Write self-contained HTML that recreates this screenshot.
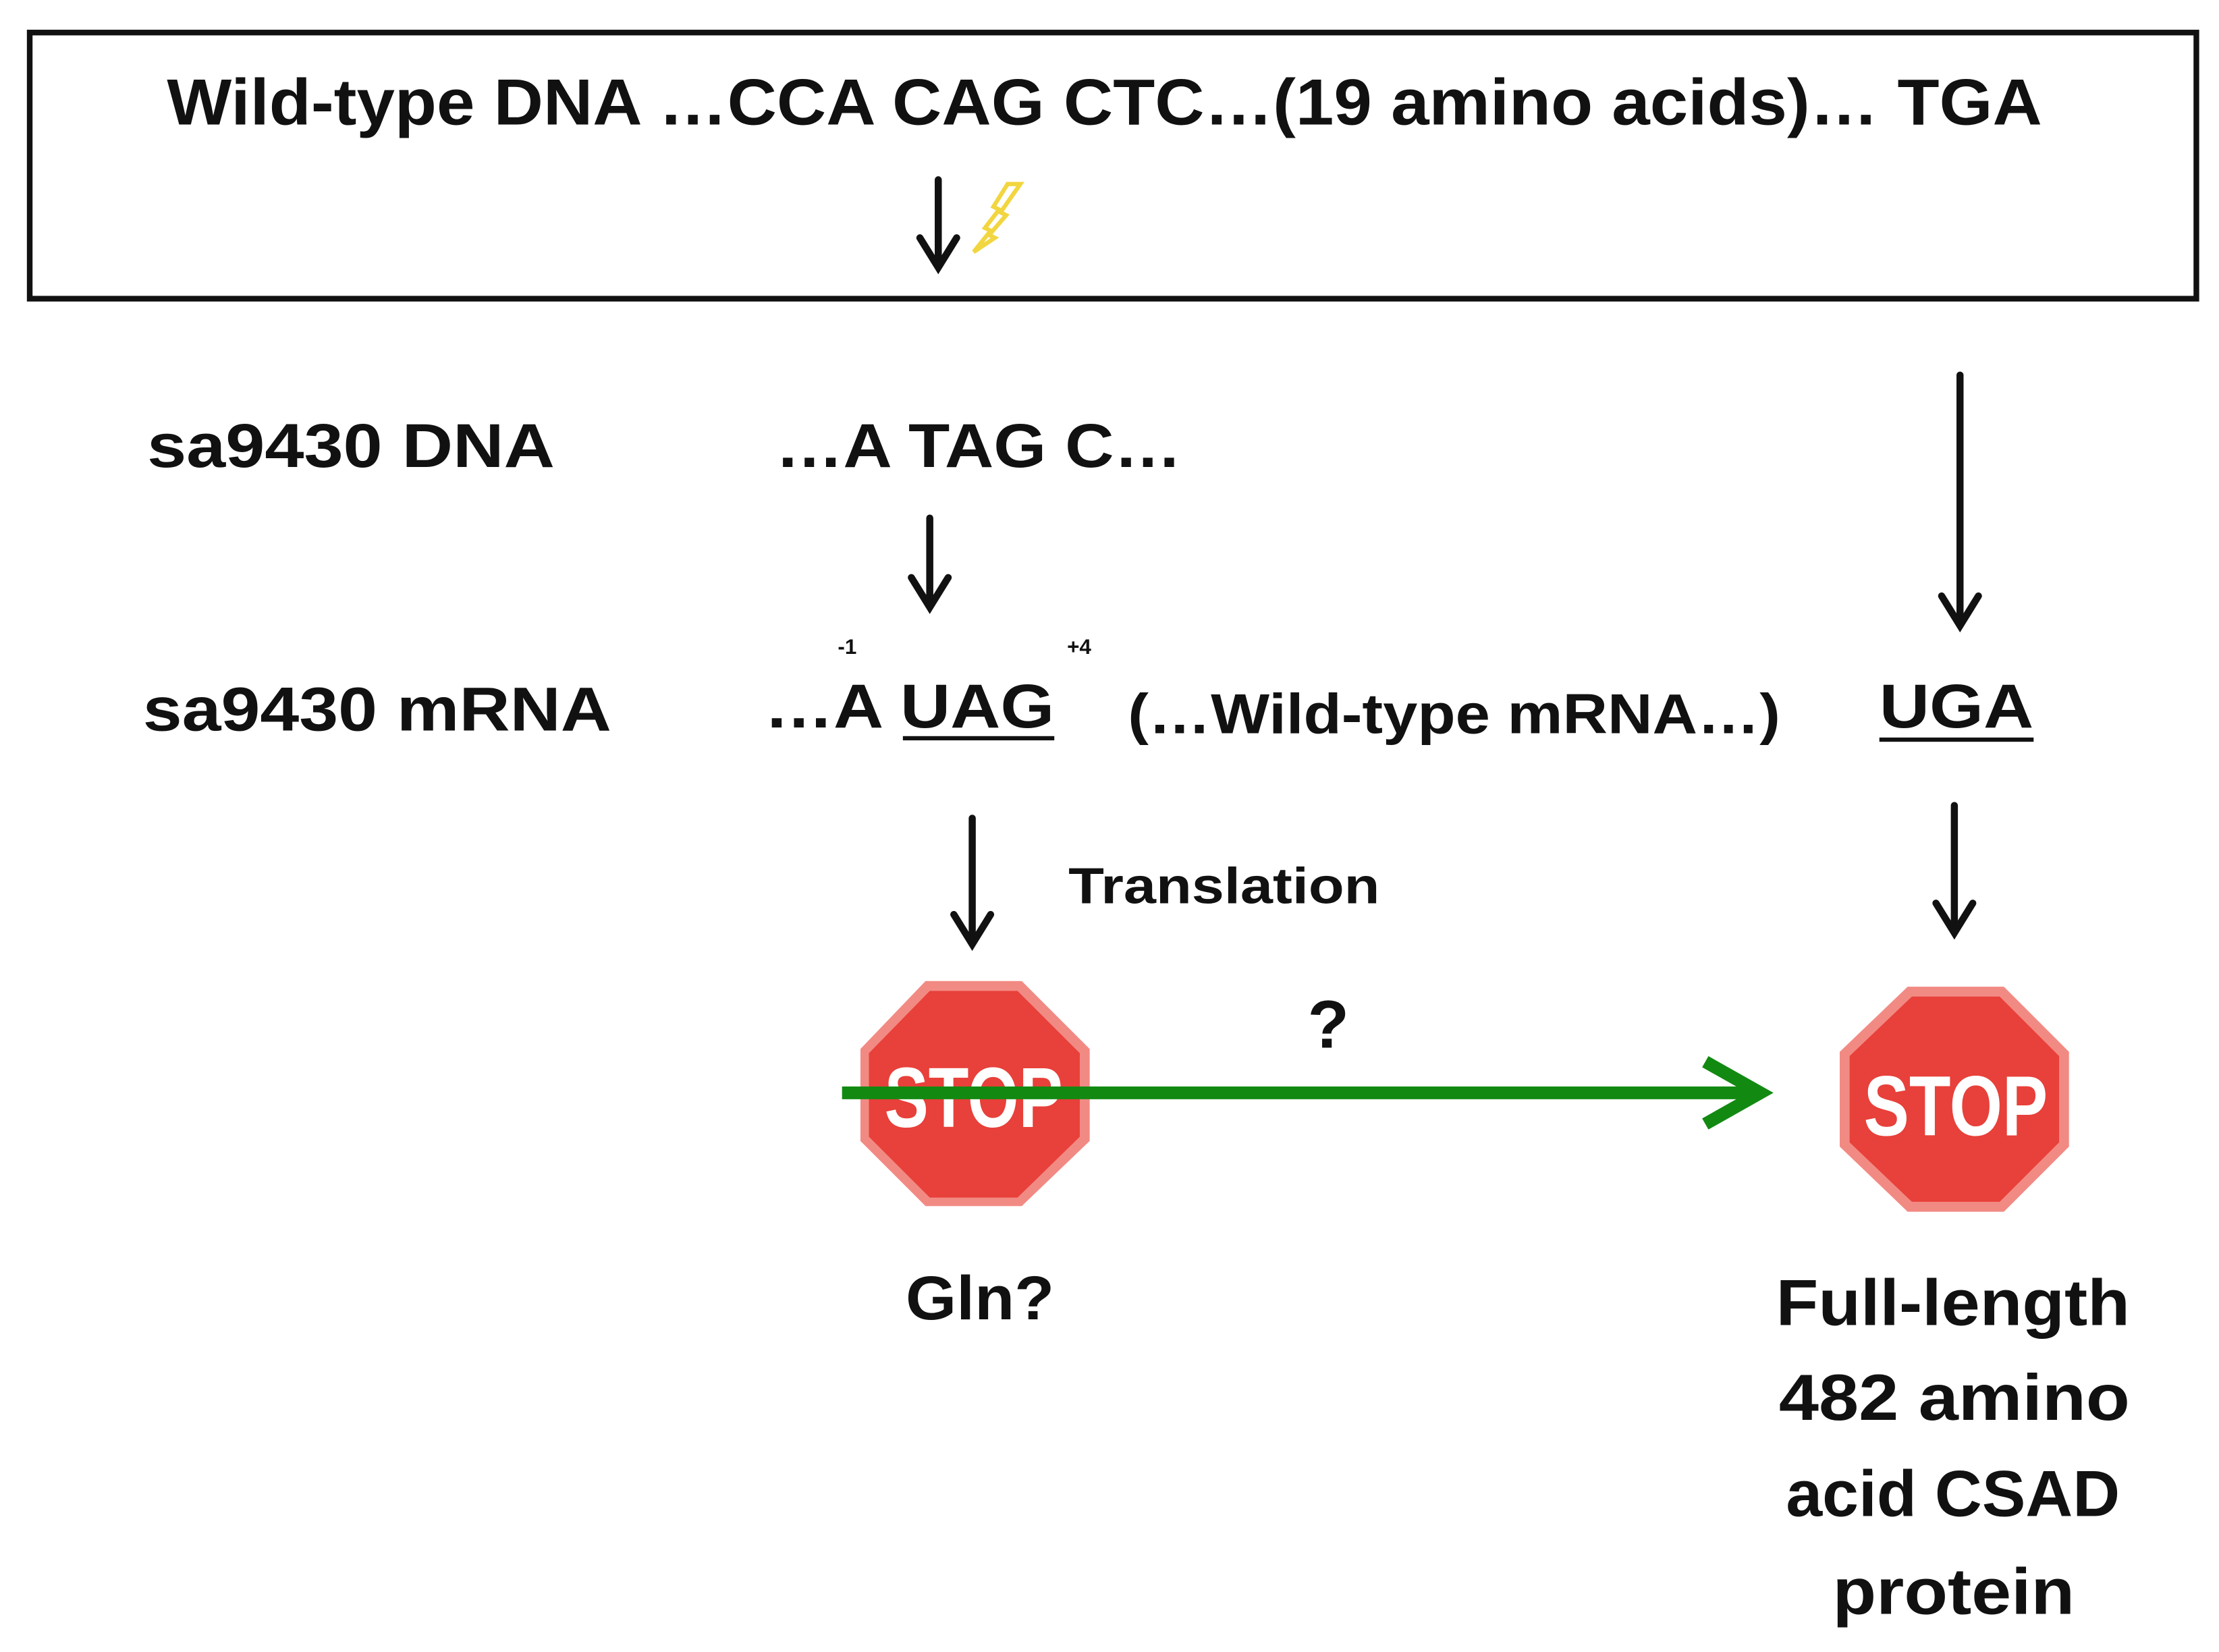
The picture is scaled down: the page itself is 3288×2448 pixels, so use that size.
<!DOCTYPE html>
<html><head><style>html,body{margin:0;padding:0;background:#fff}svg{display:block}</style></head>
<body>
<svg width="3288" height="2448" viewBox="0 0 1568 1167" preserveAspectRatio="none" xmlns="http://www.w3.org/2000/svg" font-family="Liberation Sans, sans-serif" font-weight="bold" fill="#111">
<rect x="21" y="23" width="1531" height="188" fill="none" stroke="#111" stroke-width="4"/>
<text x="118" y="88" font-size="46" textLength="1325" lengthAdjust="spacingAndGlyphs">Wild-type DNA …CCA CAG CTC…(19 amino acids)… TGA</text>
<g stroke="#111" stroke-width="5" fill="none" stroke-linecap="round" stroke-linejoin="miter">
<path d="M663 127 V188 M650 168 L663 189 L676 168"/>
<path d="M657 366 V428 M644 408 L657 429 L670 408"/>
<path d="M1385 265 V441 M1372 421 L1385 442 L1398 421"/>
<path d="M687 578 V666 M674 646 L687 667 L700 646"/>
<path d="M1381 569 V658 M1368 638 L1381 659 L1394 638"/>
</g>
<path d="M721 130 L707 150 L711 152 L699 166 L703 168 L688 178 L700 163 L696 161 L706 148 L702 146 L712 130 Z" fill="none" stroke="#f2d640" stroke-width="3"/>
<text x="104" y="330" font-size="44" textLength="288" lengthAdjust="spacingAndGlyphs">sa9430 DNA</text>
<text x="548" y="330" font-size="44" textLength="287" lengthAdjust="spacingAndGlyphs">…A TAG C…</text>
<text x="592" y="462" font-size="15">-1</text>
<text x="754" y="462" font-size="15">+4</text>
<text x="101" y="516" font-size="44" textLength="331" lengthAdjust="spacingAndGlyphs">sa9430 mRNA</text>
<text x="540" y="514" font-size="44" textLength="205" lengthAdjust="spacingAndGlyphs">…A UAG</text>
<rect x="638" y="520" width="107" height="3"/>
<text x="797" y="518" font-size="40" textLength="461" lengthAdjust="spacingAndGlyphs">(…Wild-type mRNA…)</text>
<text x="1328" y="514" font-size="44" textLength="109" lengthAdjust="spacingAndGlyphs">UGA</text>
<rect x="1328" y="521" width="109" height="3"/>
<text x="755" y="638" font-size="36" textLength="220" lengthAdjust="spacingAndGlyphs">Translation</text>
<text x="924" y="740" font-size="48">?</text>
<g>
<polygon points="654,693 722,693 770,741 770,806 722,852 654,852 608,806 608,741" fill="#f28a84"/>
<polygon points="657,700 719,700 763,744 763,803 719,846 657,846 614,803 614,744" fill="#e8403a"/>
<text x="688" y="796" font-size="60" fill="#fff" text-anchor="middle" textLength="126" lengthAdjust="spacingAndGlyphs">STOP</text>
</g>
<g>
<polygon points="1348,697 1416,697 1462,743 1462,810 1416,856 1348,856 1300,810 1300,743" fill="#f28a84"/>
<polygon points="1351,704 1413,704 1455,746 1455,807 1413,849 1351,849 1307,807 1307,746" fill="#e8403a"/>
<text x="1382" y="802" font-size="60" fill="#fff" text-anchor="middle" textLength="130" lengthAdjust="spacingAndGlyphs">STOP</text>
</g>
<line x1="595" y1="772" x2="1240" y2="772" stroke="#128a12" stroke-width="9"/>
<path d="M1205 750 L1244 772 L1205 794" fill="none" stroke="#128a12" stroke-width="9" stroke-linejoin="miter"/>
<text x="640" y="932" font-size="44" textLength="105" lengthAdjust="spacingAndGlyphs">Gln?</text>
<g font-size="46">
<text x="1255" y="936" textLength="250" lengthAdjust="spacingAndGlyphs">Full-length</text>
<text x="1257" y="1003" textLength="248" lengthAdjust="spacingAndGlyphs">482 amino</text>
<text x="1262" y="1071" textLength="236" lengthAdjust="spacingAndGlyphs">acid CSAD</text>
<text x="1295" y="1140" textLength="171" lengthAdjust="spacingAndGlyphs">protein</text>
</g>
</svg>
</body></html>
